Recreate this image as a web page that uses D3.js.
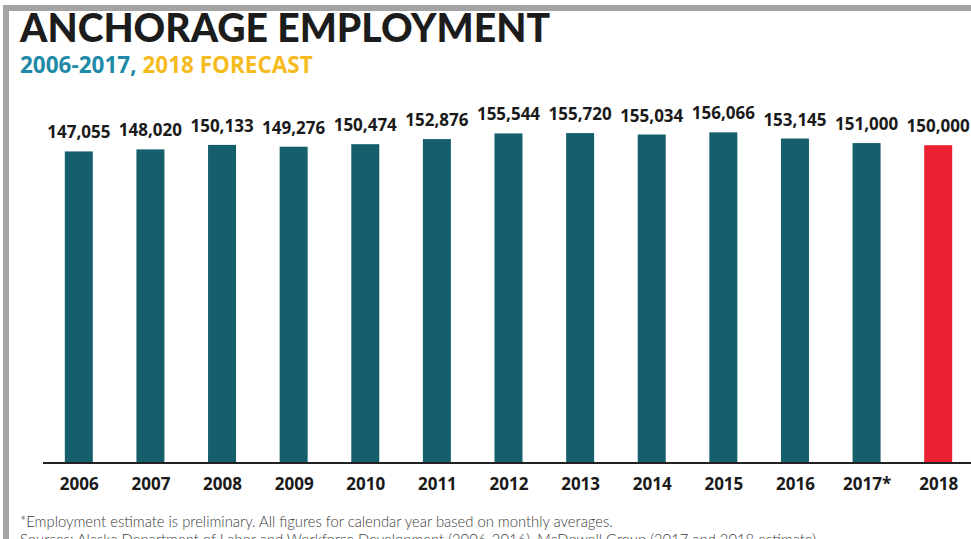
<!DOCTYPE html>
<html>
<head>
<meta charset="utf-8">
<script src="https://cdn.jsdelivr.net/npm/d3@7"></script>
<style>
  html, body { margin: 0; padding: 0; background: #fff; }
  svg { display: block; }
</style>
</head>
<body>
<div id="chart"></div>
<script>
// Chart data
const years = ['2006', '2007', '2008', '2009', '2010', '2011', '2012', '2013', '2014', '2015', '2016', '2017*', '2018'];
const employment = [147055, 148020, 150133, 149276, 150474, 152876, 155544, 155720, 155034, 156066, 153145, 151000, 150000];
const forecastYears = ['2018'];

const title = 'ANCHORAGE EMPLOYMENT';
const subtitleHistory = '2006-2017,';
const subtitleForecast = ' 2018 FORECAST';
const footnotes = [
  '*Employment estimate is preliminary. All figures for calendar year based on monthly averages.',
  'Sources: Alaska Department of Labor and Workforce Development (2006-2016), McDowell Group (2017 and 2018 estimate).'
];

const width = 971, height = 539;
const margin = { left: 43, right: -3, baseline: 463 };

const svg = d3.select('#chart').append('svg')
  .attr('width', width)
  .attr('height', height);

// Gray frame, cut off on the right and bottom
svg.append('path')
  .attr('d', `M6,${height + 10} V8 H${width + 10}`)
  .attr('fill', 'none')
  .attr('stroke', '#a4a4a4')
  .attr('stroke-width', 6);

// Title + subtitle
svg.append('text')
  .attr('x', 20).attr('y', 42)
  .attr('font-family', 'Lato, sans-serif')
  .attr('font-weight', 900)
  .attr('font-size', 40)
  .attr('fill', '#1c1c1c')
  .attr('textLength', 530)
  .attr('lengthAdjust', 'spacingAndGlyphs')
  .text(title);

const sub = svg.append('text')
  .attr('x', 20).attr('y', 73)
  .attr('font-family', '"Open Sans", sans-serif')
  .attr('font-weight', 700)
  .attr('font-size', 22.5);
sub.append('tspan').attr('fill', '#1f8aa8').text(subtitleHistory);
sub.append('tspan').attr('fill', '#f6bb1f').text(subtitleForecast);

// Scales
const x = d3.scalePoint()
  .domain(years)
  .range([margin.left, width - margin.right])
  .padding(0.5);

const y = d3.scaleLinear()
  .domain([0, 160000])
  .range([margin.baseline, margin.baseline - 339]);

const barWidth = 28;

// Bars
svg.append('g').selectAll('rect')
  .data(years)
  .join('rect')
  .attr('x', d => x(d) - barWidth / 2)
  .attr('y', (d, i) => y(employment[i]))
  .attr('width', barWidth)
  .attr('height', (d, i) => y(0) - y(employment[i]))
  .attr('fill', d => forecastYears.includes(d) ? '#ec2030' : '#155f6d');

// Value labels
svg.append('g').selectAll('text')
  .data(years)
  .join('text')
  .attr('x', d => x(d))
  .attr('y', (d, i) => y(employment[i]) - 13)
  .attr('text-anchor', 'middle')
  .attr('font-family', '"Open Sans", sans-serif')
  .attr('font-weight', 700)
  .attr('font-size', 17)
  .attr('fill', '#1a1a1a')
  .text((d, i) => d3.format(',')(employment[i]));

// X axis
const xAxis = svg.append('g')
  .attr('transform', `translate(0,${margin.baseline})`)
  .call(d3.axisBottom(x).tickSize(0).tickPadding(15));
xAxis.select('.domain')
  .attr('d', `M${margin.left},0H${width + 5}`)
  .attr('stroke', '#222')
  .attr('stroke-width', 2);
xAxis.selectAll('.tick text')
  .attr('font-family', '"Open Sans", sans-serif')
  .attr('font-weight', 700)
  .attr('font-size', 17)
  .attr('fill', '#1a1a1a');

// Footnotes (second line is cut by the bottom edge, as in the original)
svg.append('g').selectAll('text')
  .data(footnotes)
  .join('text')
  .attr('x', 20)
  .attr('y', (d, i) => 527 + i * 18)
  .attr('font-family', 'Lato, sans-serif')
  .attr('font-weight', 300)
  .attr('font-size', 14.8)
  .attr('fill', '#3a3a3a')
  .text(d => d);
</script>
</body>
</html>
